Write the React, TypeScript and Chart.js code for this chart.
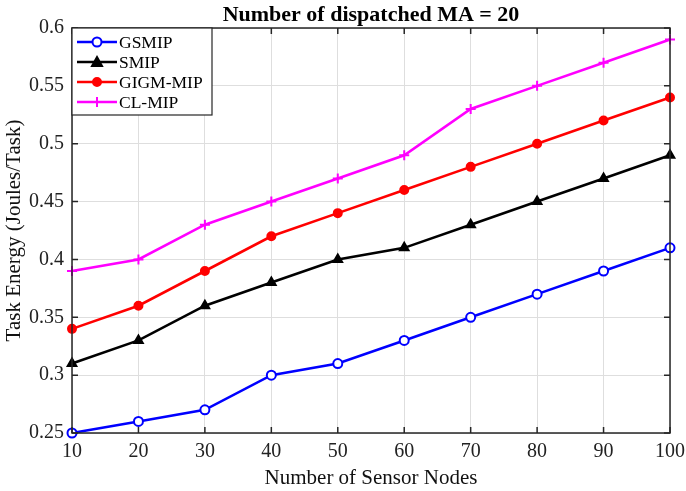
import React, { useEffect, useRef } from "react";
import { Chart, registerables } from "chart.js";

Chart.register(...registerables);

const categories = [10, 20, 30, 40, 50, 60, 70, 80, 90, 100];
const gsmip = [0.25, 0.26, 0.27, 0.3, 0.31, 0.33, 0.35, 0.37, 0.39, 0.41];
const smip = [0.31, 0.33, 0.36, 0.38, 0.4, 0.41, 0.43, 0.45, 0.47, 0.49];
const gigm = [0.34, 0.36, 0.39, 0.42, 0.44, 0.46, 0.48, 0.5, 0.52, 0.54];
const clmip = [0.39, 0.4, 0.43, 0.45, 0.47, 0.49, 0.53, 0.55, 0.57, 0.59];
const yTicks = [0.25, 0.3, 0.35, 0.4, 0.45, 0.5, 0.55, 0.6];

const FONT = "'Liberation Serif', 'Times New Roman', serif";

const framePlugin = {
  id: "frame",
  afterDraw(chart: any) {
    const { ctx, chartArea: a, scales } = chart;
    ctx.save();
    ctx.strokeStyle = "#262626";
    ctx.lineWidth = 1.5;
    ctx.strokeRect(a.left, a.top, a.right - a.left, a.bottom - a.top);
    // inner ticks
    const t = 6;
    ctx.beginPath();
    for (const v of categories) {
      const x = scales.x.getPixelForValue(v);
      ctx.moveTo(x, a.bottom);
      ctx.lineTo(x, a.bottom - t);
      ctx.moveTo(x, a.top);
      ctx.lineTo(x, a.top + t);
    }
    for (const v of yTicks) {
      const y = scales.y.getPixelForValue(v);
      ctx.moveTo(a.left, y);
      ctx.lineTo(a.left + t, y);
      ctx.moveTo(a.right, y);
      ctx.lineTo(a.right - t, y);
    }
    ctx.stroke();

    // title
    ctx.fillStyle = "#000";
    ctx.font = `bold 22px ${FONT}`;
    ctx.textAlign = "center";
    ctx.textBaseline = "middle";
    ctx.fillText("Number of dispatched MA = 20", (a.left + a.right) / 2, 15);

    // legend
    const lx = a.left, ly = a.top, lw = 140, lh = 87;
    ctx.fillStyle = "#fff";
    ctx.fillRect(lx, ly, lw, lh);
    ctx.strokeStyle = "#262626";
    ctx.lineWidth = 1.2;
    ctx.strokeRect(lx, ly, lw, lh);
    const items = chart.data.datasets;
    items.forEach((ds: any, i: number) => {
      const yy = ly + 14 + i * 20;
      ctx.strokeStyle = ds.borderColor;
      ctx.lineWidth = 2.5;
      ctx.beginPath();
      ctx.moveTo(lx + 5, yy);
      ctx.lineTo(lx + 45, yy);
      ctx.stroke();
      ctx.fillStyle = ds.pointBackgroundColor;
      ctx.strokeStyle = ds.borderColor;
      ctx.lineWidth = ds.pointBorderWidth ?? 2;
      ctx.beginPath();
      const r = ds.pointRadius;
      const cx = lx + 25;
      if (ds.pointStyle === "circle") {
        ctx.arc(cx, yy, r, 0, Math.PI * 2);
        ctx.fill();
        ctx.stroke();
      } else if (ds.pointStyle === "triangle") {
        ctx.moveTo(cx, yy - r);
        ctx.lineTo(cx + r, yy + r * 0.8);
        ctx.lineTo(cx - r, yy + r * 0.8);
        ctx.closePath();
        ctx.fill();
        ctx.stroke();
      } else {
        ctx.moveTo(cx - r, yy);
        ctx.lineTo(cx + r, yy);
        ctx.moveTo(cx, yy - r);
        ctx.lineTo(cx, yy + r);
        ctx.stroke();
      }
      ctx.fillStyle = "#000";
      ctx.font = `17.5px ${FONT}`;
      ctx.textAlign = "left";
      ctx.fillText(ds.label, lx + 47, yy + 1);
    });
    ctx.restore();
  },
};

export default function App() {
  const ref = useRef<HTMLCanvasElement>(null);
  useEffect(() => {
    document.body.style.margin = "0";
    const mk = (label: string, data: number[], color: string, style: string, fill: string, r: number) => ({
      label,
      data: categories.map((x, i) => ({ x, y: data[i] })),
      borderColor: color,
      backgroundColor: fill,
      pointBackgroundColor: fill,
      pointBorderColor: color,
      pointStyle: style,
      pointRadius: r,
      pointBorderWidth: 2,
      borderWidth: 2.6,
      tension: 0,
      clip: false,
    });
    const chart = new Chart(ref.current!, {
      type: "line",
      data: {
        datasets: [
          mk("GSMIP", gsmip, "#0000ff", "circle", "#ffffff", 4.5),
          mk("SMIP", smip, "#000000", "triangle", "#000000", 5),
          mk("GIGM-MIP", gigm, "#ff0000", "circle", "#ff0000", 4),
          mk("CL-MIP", clmip, "#ff00ff", "cross", "#ff00ff", 5),
        ],
      },
      options: {
        animation: false,
        responsive: false,
        layout: { padding: { top: 28, right: 16, left: 0, bottom: 0 } },
        plugins: { legend: { display: false }, title: { display: false }, tooltip: { enabled: false } },
        scales: {
          x: {
            type: "linear",
            min: 10,
            max: 100,
            afterBuildTicks: (s: any) => { s.ticks = categories.map((v) => ({ value: v })); },
            afterFit: (s: any) => { s.height = 58; s.paddingLeft = 0; s.paddingRight = 0; },
            grid: { color: "#dedede", lineWidth: 1, drawTicks: false },
            border: { display: false },
            ticks: { color: "#222", font: { family: FONT, size: 20 }, padding: 7, maxRotation: 0 },
            title: { display: true, text: "Number of Sensor Nodes", color: "#111", font: { family: FONT, size: 21 }, padding: { top: 0, bottom: 0 } },
          },
          y: {
            min: 0.25,
            max: 0.6,
            afterBuildTicks: (s: any) => { s.ticks = yTicks.map((v) => ({ value: v })); },
            afterFit: (s: any) => { s.width = 72; s.paddingTop = 0; s.paddingBottom = 0; },
            grid: { color: "#dedede", lineWidth: 1, drawTicks: false },
            border: { display: false },
            ticks: {
              color: "#222",
              font: { family: FONT, size: 20 },
              padding: 8,
              callback: (v: any) => String(Number(v)),
            },
            title: { display: true, text: "Task Energy (Joules/Task)", color: "#111", font: { family: FONT, size: 21 }, padding: { top: 2, bottom: 0 } },
          },
        },
      },
      plugins: [framePlugin],
    } as any);
    return () => chart.destroy();
  }, []);
  return (
    <div style={{ width: 686, height: 491, background: "#fff" }}>
      <canvas ref={ref} width={686} height={491} />
    </div>
  );
}
